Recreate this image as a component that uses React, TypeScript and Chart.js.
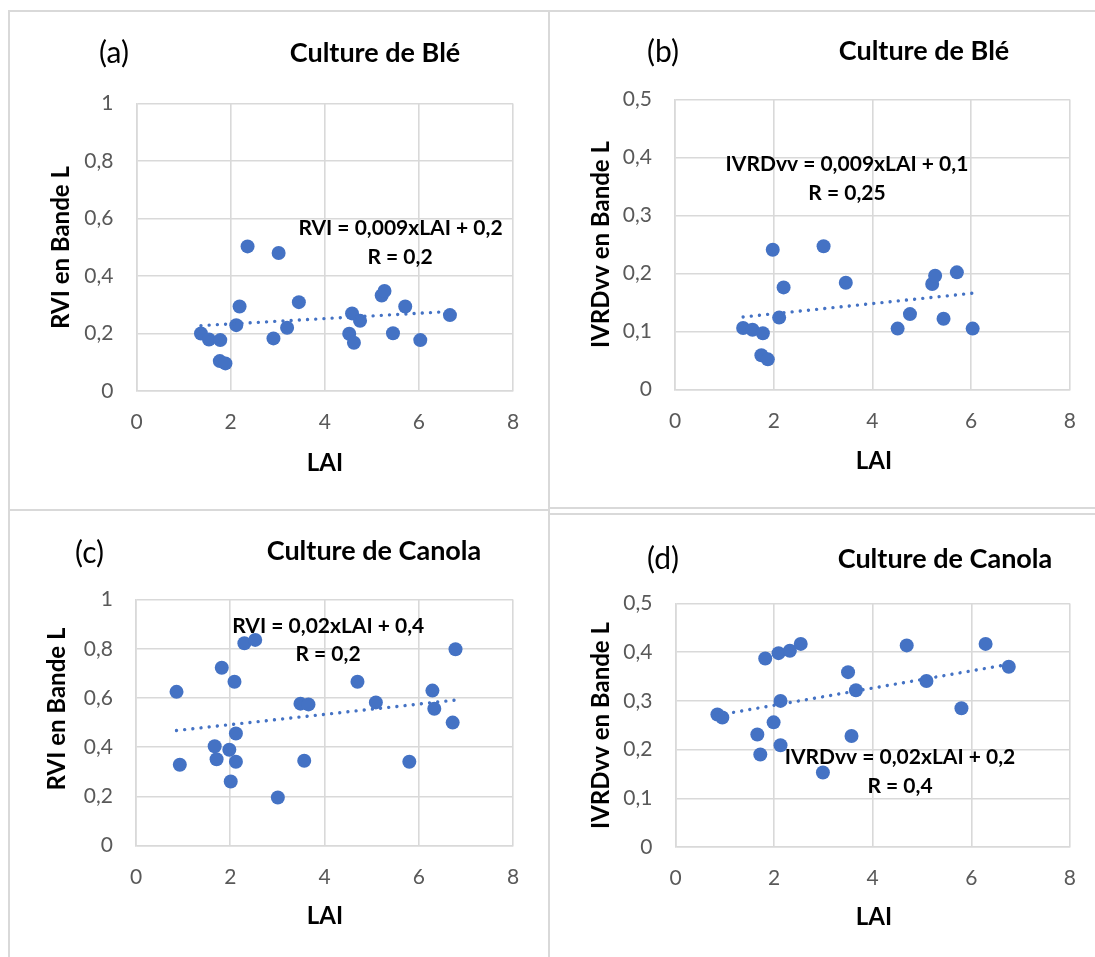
import React, { useEffect, useRef } from "react";
import { Chart, registerables } from "chart.js";

Chart.register(...registerables);

// ---------- Data ----------
const laiWheatRvi = [1.37, 1.54, 1.78, 1.77, 1.89, 2.12, 2.19, 2.36, 2.91, 3.02, 3.2, 3.45, 4.52, 4.58, 4.62, 4.75, 5.21, 5.27, 5.45, 5.71, 6.03, 6.66];
const rviWheat = [0.2, 0.179, 0.177, 0.104, 0.096, 0.229, 0.294, 0.503, 0.183, 0.48, 0.22, 0.309, 0.199, 0.27, 0.168, 0.244, 0.332, 0.348, 0.201, 0.294, 0.177, 0.264];

const laiWheatIvrd = [1.38, 1.57, 1.78, 1.75, 1.88, 1.98, 2.11, 2.2, 3.01, 3.46, 4.51, 4.76, 5.21, 5.27, 5.44, 5.71, 6.03];
const ivrdWheat = [0.106, 0.103, 0.097, 0.059, 0.052, 0.241, 0.124, 0.176, 0.247, 0.184, 0.105, 0.13, 0.182, 0.196, 0.122, 0.202, 0.105];

const laiCanolaRvi = [0.86, 0.93, 1.67, 1.71, 1.82, 1.98, 2.01, 2.09, 2.12, 2.12, 2.3, 2.53, 3.01, 3.49, 3.66, 3.57, 4.7, 5.09, 5.8, 6.29, 6.33, 6.72, 6.78];
const rviCanola = [0.625, 0.329, 0.404, 0.351, 0.723, 0.39, 0.261, 0.666, 0.456, 0.341, 0.822, 0.836, 0.196, 0.577, 0.574, 0.345, 0.666, 0.582, 0.341, 0.63, 0.556, 0.5, 0.798];

const laiCanolaIvrd = [0.85, 0.95, 1.66, 1.72, 1.82, 1.99, 2.09, 2.13, 2.13, 2.32, 2.54, 2.99, 3.5, 3.57, 3.66, 4.69, 5.09, 5.8, 6.29, 6.76];
const ivrdCanola = [0.272, 0.266, 0.231, 0.19, 0.387, 0.256, 0.398, 0.209, 0.3, 0.403, 0.417, 0.153, 0.359, 0.228, 0.322, 0.414, 0.341, 0.285, 0.417, 0.37];

const xTicks = [0, 2, 4, 6, 8];
const rviTicks = [0, 0.2, 0.4, 0.6, 0.8, 1];
const ivrdTicks = [0, 0.1, 0.2, 0.3, 0.4, 0.5];

const panelLabels = ["(a)", "(b)", "(c)", "(d)"];
const cropTitles = ["Culture de Blé", "Culture de Blé", "Culture de Canola", "Culture de Canola"];
const yTitles = ["RVI en Bande L", "IVRDvv en Bande L", "RVI en Bande L", "IVRDvv en Bande L"];
const xTitle = "LAI";
const equations = [
  ["RVI = 0,009xLAI + 0,2", "R = 0,2"],
  ["IVRDvv = 0,009xLAI + 0,1", "R = 0,25"],
  ["RVI = 0,02xLAI + 0,4", "R = 0,2"],
  ["IVRDvv = 0,02xLAI + 0,2", "R = 0,4"],
];

// ---------- Layout / style ----------
const FONT = "Lato, 'Open Sans', sans-serif";
const BLUE = "#4472C4";
const GRID = "#d9d9d9";

type P = [number, number];
type PanelCfg = {
  box: { left: number; top: number; w: number; h: number };
  area: { l: number; t: number; r: number; b: number };
  xs: number[];
  ys: number[];
  yTicks: number[];
  idx: number;
  labelPos: P;
  titlePos: P;
  yTitlePos: P;
  xTitlePos: P;
  eqPos: P[];
};

const panels: PanelCfg[] = [
  {
    box: { left: 10, top: 12, w: 538, h: 497 },
    area: { l: 136.5, t: 103.5, r: 513, b: 391 },
    xs: laiWheatRvi, ys: rviWheat, yTicks: rviTicks, idx: 0,
    labelPos: [114, 52.5], titlePos: [375, 52.5], yTitlePos: [60, 247.5], xTitlePos: [325, 462],
    eqPos: [[400.5, 227], [400, 256]],
  },
  {
    box: { left: 550, top: 12, w: 545, h: 495 },
    area: { l: 675, t: 99.5, r: 1072, b: 389.5 },
    xs: laiWheatIvrd, ys: ivrdWheat, yTicks: ivrdTicks, idx: 1,
    labelPos: [663, 51], titlePos: [924, 50.5], yTitlePos: [600, 244.5], xTitlePos: [874, 460],
    eqPos: [[847, 163], [847, 192]],
  },
  {
    box: { left: 10, top: 511, w: 538, h: 446 },
    area: { l: 136, t: 599.5, r: 513, b: 845.7 },
    xs: laiCanolaRvi, ys: rviCanola, yTicks: rviTicks, idx: 2,
    labelPos: [89.5, 552], titlePos: [374, 550], yTitlePos: [56, 709], xTitlePos: [325, 915],
    eqPos: [[328.3, 625], [328, 653]],
  },
  {
    box: { left: 550, top: 515, w: 545, h: 442 },
    area: { l: 675.5, t: 603.5, r: 1071, b: 847 },
    xs: laiCanolaIvrd, ys: ivrdCanola, yTicks: ivrdTicks, idx: 3,
    labelPos: [663, 558], titlePos: [945, 558], yTitlePos: [600, 725.5], xTitlePos: [874, 916.7],
    eqPos: [[900, 756.7], [900, 785]],
  },
];

function fmt(v: number): string {
  return String(Number(v.toFixed(2))).replace(".", ",");
}

function regression(xs: number[], ys: number[]) {
  const n = xs.length;
  const mx = xs.reduce((a, b) => a + b, 0) / n;
  const my = ys.reduce((a, b) => a + b, 0) / n;
  let sxy = 0;
  let sxx = 0;
  for (let i = 0; i < n; i++) {
    sxy += (xs[i] - mx) * (ys[i] - my);
    sxx += (xs[i] - mx) * (xs[i] - mx);
  }
  const slope = sxy / sxx;
  const icpt = my - slope * mx;
  const x0 = Math.min(...xs);
  const x1 = Math.max(...xs);
  return [
    { x: x0, y: icpt + slope * x0 },
    { x: x1, y: icpt + slope * x1 },
  ];
}

function PanelChart({ cfg }: { cfg: PanelCfg }) {
  const ref = useRef<HTMLCanvasElement | null>(null);
  useEffect(() => {
    const canvas = ref.current;
    if (!canvas) return;
    const { box, area } = cfg;
    const yMax = cfg.yTicks[cfg.yTicks.length - 1];
    const yStep = cfg.yTicks[1] - cfg.yTicks[0];

    const textPlugin = {
      id: "panelText",
      afterDraw(chart: any) {
        const ctx = chart.ctx as CanvasRenderingContext2D;
        const put = (text: string, pos: P, size: number, bold: boolean, rotate = false) => {
          ctx.save();
          ctx.font = `${bold ? "bold " : ""}${size}px ${FONT}`;
          ctx.fillStyle = "#000000";
          ctx.textAlign = "center";
          ctx.textBaseline = "alphabetic";
          ctx.translate(pos[0] - box.left, pos[1] - box.top);
          if (rotate) ctx.rotate(-Math.PI / 2);
          ctx.fillText(text, 0, size * 0.36);
          ctx.restore();
        };
        put(panelLabels[cfg.idx], cfg.labelPos, 30, false);
        put(cropTitles[cfg.idx], cfg.titlePos, 27, true);
        put(yTitles[cfg.idx], cfg.yTitlePos, 24, true, true);
        put(xTitle, cfg.xTitlePos, 24, true);
        equations[cfg.idx].forEach((line, i) => put(line, cfg.eqPos[i], 21, true));
      },
    };

    const chart = new Chart(canvas, {
      type: "scatter",
      data: {
        datasets: [
          {
            type: "line",
            data: regression(cfg.xs, cfg.ys),
            showLine: true,
            borderColor: BLUE,
            borderWidth: 3.4,
            borderDash: [0.01, 8.2],
            borderCapStyle: "round",
            pointRadius: 0,
            fill: false,
          } as any,
          {
            data: cfg.xs.map((x, i) => ({ x, y: cfg.ys[i] })),
            backgroundColor: BLUE,
            borderColor: BLUE,
            borderWidth: 0,
            pointRadius: 7,
          },
        ],
      },
      options: {
        animation: false,
        responsive: false,
        maintainAspectRatio: false,
        devicePixelRatio: 1,
        events: [],
        layout: {
          padding: {
            left: 0,
            top: area.t - box.top,
            right: box.left + box.w - area.r,
            bottom: 0,
          },
        },
        plugins: {
          legend: { display: false },
          tooltip: { enabled: false },
          title: { display: false },
        },
        scales: {
          x: {
            type: "linear",
            min: xTicks[0],
            max: xTicks[xTicks.length - 1],
            afterBuildTicks: (s: any) => {
              s.ticks = xTicks.map((v) => ({ value: v }));
            },
            ticks: {
              padding: 19,
              color: "#595959",
              font: { family: FONT, size: 21 },
              callback: (v: any) => fmt(Number(v)),
            },
            grid: { color: GRID, lineWidth: 1.6, drawTicks: false },
            border: { color: GRID, width: 1.6 },
            afterFit: (s: any) => {
              s.height = box.top + box.h - area.b;
            },
          },
          y: {
            type: "linear",
            min: 0,
            max: yMax,
            afterBuildTicks: (s: any) => {
              s.ticks = cfg.yTicks.map((v) => ({ value: v }));
            },
            ticks: {
              stepSize: yStep,
              padding: 23,
              color: "#595959",
              font: { family: FONT, size: 21 },
              callback: (v: any) => fmt(Number(v)),
            },
            grid: { color: GRID, lineWidth: 1.6, drawTicks: false },
            border: { color: GRID, width: 1.6 },
            afterFit: (s: any) => {
              s.width = area.l - box.left;
            },
          },
        },
      } as any,
      plugins: [textPlugin],
    });
    return () => chart.destroy();
  }, [cfg]);

  return (
    <canvas
      ref={ref}
      width={cfg.box.w}
      height={cfg.box.h}
      style={{
        position: "absolute",
        left: cfg.box.left,
        top: cfg.box.top,
        width: cfg.box.w,
        height: cfg.box.h,
      }}
    />
  );
}

const frameLines = [
  { left: 8, top: 10, width: 1087, height: 2 },
  { left: 8, top: 10, width: 2, height: 947 },
  { left: 548, top: 10, width: 2, height: 947 },
  { left: 8, top: 509, width: 541, height: 2 },
  { left: 549, top: 507, width: 546, height: 2 },
  { left: 549, top: 513, width: 546, height: 2 },
];

export default function App() {
  return (
    <div
      style={{
        position: "absolute",
        left: 0,
        top: 0,
        width: 1095,
        height: 957,
        background: "#ffffff",
        overflow: "hidden",
      }}
    >
      {frameLines.map((l, i) => (
        <div key={i} style={{ position: "absolute", background: GRID, ...l }} />
      ))}
      {panels.map((p, i) => (
        <PanelChart key={i} cfg={p} />
      ))}
    </div>
  );
}
